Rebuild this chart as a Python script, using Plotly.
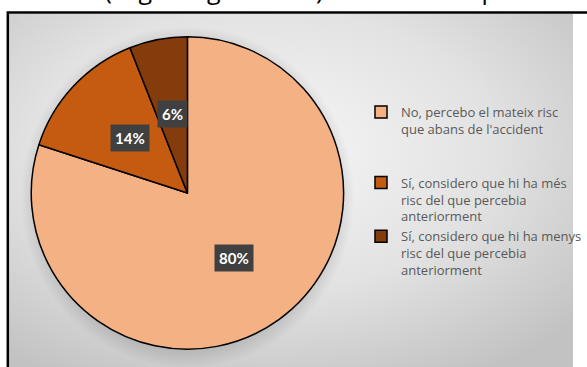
import math
import plotly.graph_objects as go

# ---- data ----
labels = [
    "No, percebo el mateix risc<br>que abans de l'accident<br> <br> ",
    "Sí, considero que hi ha més<br>risc del que percebia<br>anteriorment",
    "Sí, considero que hi ha menys<br>risc del que percebia<br>anteriorment",
]
values = [80, 14, 6]
colors = ["#F4B183", "#C55A11", "#843C0C"]
top_text = "menides (vegeu Figura 4.36). El 80% de la població"

W, H = 587, 367
cx, cy, R = 192, 193, 160          # pie centre / radius in pixels
fx0, fy0 = 9, 14                   # inner top-left of the chart frame

fig = go.Figure()

# radial gradient background of chart area (hidden axes)
gx = [-160, 700, 700, -160, -160]
gy = [-110, -110, 410, 410, -110]
fig.add_trace(go.Scatter(
    x=gx, y=gy, mode="lines", fill="toself", line=dict(width=0),
    fillgradient=dict(type="radial",
                      colorscale=[[0, "#f7f7f7"], [0.55, "#e2e2e2"], [1, "#c2c2c2"]]),
    hoverinfo="skip", showlegend=False,
))

# soft shadow around the pie
n = 120
sx = [cx + 171 * math.cos(2 * math.pi * i / n) for i in range(n + 1)]
sy = [cy + 4 + 171 * math.sin(2 * math.pi * i / n) for i in range(n + 1)]
fig.add_trace(go.Scatter(
    x=sx, y=sy, mode="lines", fill="toself", line=dict(width=0),
    fillgradient=dict(type="radial",
                      colorscale=[[0, "rgba(0,0,0,0.16)"], [0.9, "rgba(0,0,0,0.12)"],
                                  [1, "rgba(0,0,0,0)"]]),
    hoverinfo="skip", showlegend=False,
))

fig.add_trace(go.Pie(
    labels=labels, values=values, sort=False, direction="clockwise", rotation=0,
    marker=dict(colors=colors, line=dict(color="#000000", width=1.5)),
    textinfo="none", hoverinfo="label+percent",
    domain=dict(x=[(cx - R) / W, (cx + R) / W],
                y=[(H - cy - R) / H, (H - cy + R) / H]),
))

# data labels (dark boxes) at half radius on each slice's mid-angle
total = sum(values)
cum = 0
for v in values:
    mid = (cum + v / 2) / total * 2 * math.pi
    cum += v
    px = cx + 0.505 * R * math.sin(mid)
    py = cy - 0.505 * R * math.cos(mid)
    fig.add_annotation(
        x=px / W, y=1 - py / H, xref="paper", yref="paper", showarrow=False,
        xanchor="center", yanchor="middle",
        text=f"<b>{v}%</b>", font=dict(family="Lato", size=15, color="#ffffff"),
        bgcolor="#404040", borderpad=4,
    )

# top cropped body text
fig.add_annotation(
    x=-4 / W, y=1 - 8 / H, xref="paper", yref="paper", xanchor="left", yanchor="bottom",
    showarrow=False, text=top_text, font=dict(family="Open Sans", size=25, color="#000000"),
)

# chart frame
fig.add_shape(type="rect", xref="paper", yref="paper",
              x0=8 / W, y0=-0.1, x1=1.1, y1=1 - 12.5 / H,
              line=dict(color="#000000", width=2.5), fillcolor="rgba(0,0,0,0)")

fig.update_layout(
    width=W, height=H, margin=dict(l=0, r=0, t=0, b=0),
    paper_bgcolor="#ffffff", plot_bgcolor="rgba(0,0,0,0)",
    xaxis=dict(domain=[fx0 / W, 1], range=[fx0, W], visible=False, fixedrange=True),
    yaxis=dict(domain=[0, 1 - fy0 / H], range=[H, fy0], visible=False, fixedrange=True),
    showlegend=True,
    legend=dict(x=370 / W, y=1 - 97 / H, xanchor="left", yanchor="top",
                valign="top", bgcolor="rgba(0,0,0,0)",
                font=dict(family="Open Sans", size=13, color="#595959")),
)

fig.write_html("out.html", config={"displayModeBar": False},
               post_script="document.body.style.margin='0';")
